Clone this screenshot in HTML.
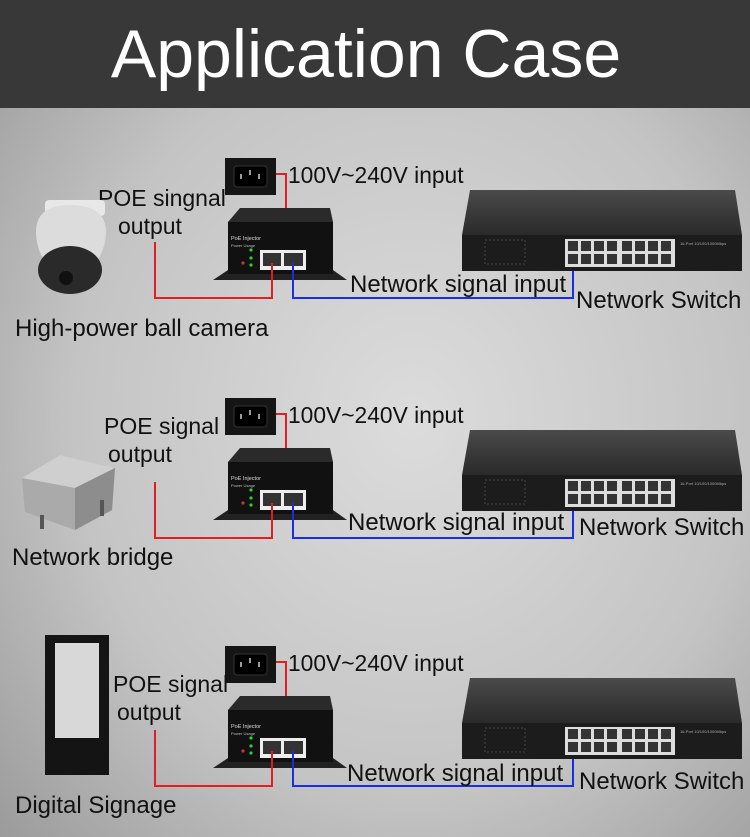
<!DOCTYPE html>
<html><head><meta charset="utf-8"><style>
html,body{margin:0;padding:0;width:750px;height:837px;overflow:hidden}
text{font-family:"Liberation Sans",sans-serif}
</style></head><body>
<svg width="750" height="837" viewBox="0 0 750 837" xmlns="http://www.w3.org/2000/svg">
<defs>
<radialGradient id="bg" cx="0.55" cy="0.5" r="0.75">
<stop offset="0" stop-color="#dcdcdc"/><stop offset="0.6" stop-color="#c4c4c4"/><stop offset="1" stop-color="#9a9a9a"/>
</radialGradient>
<linearGradient id="swtop" x1="0" y1="0" x2="0" y2="1"><stop offset="0" stop-color="#4a4a4a"/><stop offset="1" stop-color="#2a2a2a"/></linearGradient>
<g id="set">
  <rect x="225" y="158" width="51" height="37" fill="#151515"/>
  <rect x="234" y="166" width="33" height="21" rx="3" fill="#000" stroke="#333"/>
  <rect x="240" y="174" width="2" height="5" fill="#999"/><rect x="249" y="170" width="2" height="5" fill="#999"/><rect x="258" y="174" width="2" height="5" fill="#999"/>
  <polyline points="276,174 286,174 286,210" fill="none" stroke="#e02020" stroke-width="2"/>
  <polygon points="240,208 330,208 333,222 228,222" fill="#2a2a2a"/>
  <polygon points="213,280 228,270 333,270 347,280" fill="#222"/>
  <rect x="228" y="222" width="105" height="52" fill="#111"/>
  <text x="231" y="240" font-size="5.5" fill="#ddd">PoE Injector</text>
  <text x="231" y="247" font-size="4" fill="#bbb">Power Usage</text>
  <circle cx="251" cy="250" r="1.6" fill="#3c3"/><circle cx="251" cy="258" r="1.6" fill="#3c3"/><circle cx="251" cy="265" r="1.6" fill="#3c3"/><circle cx="243" cy="263" r="1.6" fill="#c33"/>
  <rect x="260" y="250" width="46" height="20" fill="#eee"/>
  <rect x="263" y="253" width="18" height="13" fill="#333"/><rect x="284" y="253" width="19" height="13" fill="#333"/>
  <polyline points="272,263 272,298 155,298 155,242" fill="none" stroke="#e02020" stroke-width="2"/>
  <polyline points="293,263 293,298 573,298 573,262" fill="none" stroke="#1a2ee0" stroke-width="2"/>
  <polygon points="470,190 735,190 742,235 462,235" fill="url(#swtop)"/>
  <rect x="462" y="235" width="280" height="36" fill="#1c1c1c"/>
  <rect x="485" y="240" width="40" height="24" fill="none" stroke="#444" stroke-dasharray="2,2"/>
  <rect x="565" y="239" width="110" height="28" fill="#ddd"/>
  <g fill="#333">
   <rect x="568" y="241" width="10" height="10"/><rect x="581" y="241" width="10" height="10"/><rect x="594" y="241" width="10" height="10"/><rect x="607" y="241" width="10" height="10"/>
   <rect x="622" y="241" width="10" height="10"/><rect x="635" y="241" width="10" height="10"/><rect x="648" y="241" width="10" height="10"/><rect x="661" y="241" width="10" height="10"/>
   <rect x="568" y="254" width="10" height="10"/><rect x="581" y="254" width="10" height="10"/><rect x="594" y="254" width="10" height="10"/><rect x="607" y="254" width="10" height="10"/>
   <rect x="622" y="254" width="10" height="10"/><rect x="635" y="254" width="10" height="10"/><rect x="648" y="254" width="10" height="10"/><rect x="661" y="254" width="10" height="10"/>
  </g>
  <text x="680" y="245" font-size="4" fill="#aaa">16-Port 10/100/1000Mbps</text>
  <text x="288" y="183" font-size="22.8" fill="#111">100V~240V input</text>
</g>
</defs>
<rect width="750" height="837" fill="url(#bg)"/>
<rect width="750" height="108" fill="#383838"/>
<text x="366" y="77" font-size="68" fill="#fff" text-anchor="middle">Application Case</text>

<use href="#set"/>
<use href="#set" transform="translate(0,240)"/>
<use href="#set" transform="translate(0,488)"/>

<g font-size="24" fill="#111">
<text x="98" y="206" font-size="23">POE singnal</text><text x="118" y="234" font-size="23">output</text>
<text x="350" y="292">Network signal input</text>
<text x="576" y="308">Network Switch</text>
<text x="15" y="336">High-power ball camera</text>

<text x="104" y="434" font-size="23">POE signal</text><text x="108" y="462" font-size="23">output</text>
<text x="348" y="530">Network signal input</text>
<text x="579" y="535">Network Switch</text>
<text x="12" y="565">Network bridge</text>

<text x="113" y="692" font-size="23">POE signal</text><text x="117" y="720" font-size="23">output</text>
<text x="347" y="781">Network signal input</text>
<text x="579" y="789">Network Switch</text>
<text x="15" y="813">Digital Signage</text>
</g>

<!-- camera -->
<rect x="45" y="200" width="60" height="16" rx="4" fill="#e8e8e8"/>
<path d="M36 232 Q36 205 70 205 Q106 205 106 232 Q106 262 70 290 Q36 262 36 232Z" fill="#dcdcdc"/>
<ellipse cx="70" cy="270" rx="32" ry="24" fill="#2a2a2a"/>
<circle cx="66" cy="278" r="7" fill="#111"/>
<!-- bridge -->
<polygon points="22,478 60,455 115,468 112,510 75,530 25,512" fill="#aaa"/>
<polygon points="22,478 60,455 115,468 75,488" fill="#cfcfcf"/>
<polygon points="75,488 115,468 112,510 75,530" fill="#8d8d8d"/>
<rect x="40" y="515" width="4" height="14" fill="#555"/><rect x="100" y="500" width="4" height="16" fill="#555"/>
<!-- signage -->
<rect x="45" y="635" width="64" height="140" fill="#141414"/>
<rect x="55" y="643" width="44" height="95" fill="#d8d8d8"/>
</svg>
</body></html>
